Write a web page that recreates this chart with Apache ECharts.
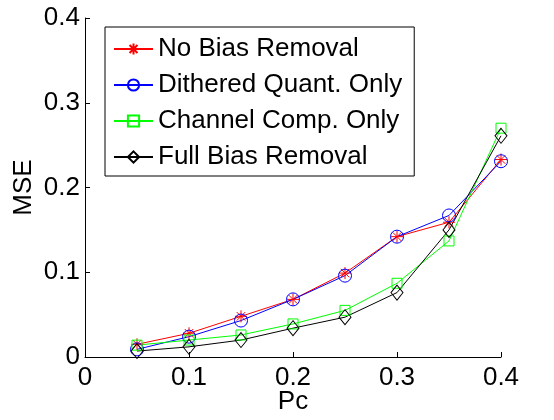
<!DOCTYPE html>
<html>
<head>
<meta charset="utf-8">
<script src="https://cdn.jsdelivr.net/npm/echarts@6/dist/echarts.min.js"></script>
<style>
  html, body { margin: 0; padding: 0; background: #fff; }
  #chart { width: 554px; height: 420px; }
</style>
</head>
<body>
<div id="chart"></div>
<script>
// Crossover probability values on the x axis
const pc = [0.05, 0.10, 0.15, 0.20, 0.25, 0.30, 0.35, 0.40];

// MSE of each estimator
const noBiasRemoval   = [0.015, 0.028, 0.048, 0.068, 0.099, 0.142, 0.159, 0.233];
const ditheredOnly    = [0.009, 0.024, 0.043, 0.068, 0.096, 0.142, 0.167, 0.231];
const channelCompOnly = [0.014, 0.020, 0.026, 0.039, 0.055, 0.087, 0.137, 0.270];
const fullBiasRemoval = [0.007, 0.012, 0.020, 0.034, 0.047, 0.076, 0.150, 0.261];

const seriesNames = ['No Bias Removal', 'Dithered Quant. Only', 'Channel Comp. Only', 'Full Bias Removal'];

const FONT = 'Liberation Sans, Arial, Helvetica, sans-serif';
const FONT_SIZE = 26;
const asterisk = 'path://M0,-10L0,10M-10,0L10,0M-7.07,-7.07L7.07,7.07M-7.07,7.07L7.07,-7.07';

function pairs(ys) {
  return pc.map((x, i) => [x, ys[i]]);
}

function lineSeries(name, ys, color, symbol, size) {
  return {
    name: name,
    type: 'line',
    data: pairs(ys),
    symbol: symbol,
    symbolSize: size,
    showAllSymbol: true,
    lineStyle: { color: color, width: 1 },
    itemStyle: { color: 'rgba(0,0,0,0)', borderColor: color, borderWidth: 1 },
    emphasis: { disabled: true },
    animation: false
  };
}

const tickFormat = v => (v === 0 ? '0' : v.toFixed(1));

const chart = echarts.init(document.getElementById('chart'));
chart.setOption({
  backgroundColor: '#fff',
  animation: false,
  grid: { left: 85, right: 53, top: 18, bottom: 63, containLabel: false, outerBoundsMode: 'none' },
  legend: {
    orient: 'vertical',
    left: 105,
    top: 27,
    backgroundColor: '#fff',
    borderColor: '#000',
    borderWidth: 1,
    padding: [9, 12, 6, 8],
    itemGap: 10,
    itemWidth: 39,
    itemHeight: 14,
    textStyle: { fontFamily: FONT, fontSize: FONT_SIZE, color: '#000', lineHeight: 26 },
    data: seriesNames
  },
  xAxis: {
    type: 'value',
    min: 0, max: 0.4, interval: 0.1,
    name: 'Pc', nameLocation: 'middle', nameGap: 32, nameMoveOverlap: false,
    nameTextStyle: { fontFamily: FONT, fontSize: FONT_SIZE, color: '#000' },
    axisLine: { lineStyle: { color: '#000', width: 1 } },
    axisTick: { show: true, inside: true, length: 5, lineStyle: { color: '#000' } },
    axisLabel: { fontFamily: FONT, fontSize: FONT_SIZE, color: '#000', margin: 8, formatter: tickFormat },
    splitLine: { show: false }
  },
  yAxis: {
    type: 'value',
    min: 0, max: 0.4, interval: 0.1,
    name: 'MSE', nameLocation: 'middle', nameGap: 48, nameMoveOverlap: false,
    nameTextStyle: { fontFamily: FONT, fontSize: FONT_SIZE, color: '#000' },
    axisLine: { show: true, lineStyle: { color: '#000', width: 1 } },
    axisTick: { show: true, inside: true, length: 5, lineStyle: { color: '#000' } },
    axisLabel: { fontFamily: FONT, fontSize: FONT_SIZE, color: '#000', margin: 5, formatter: tickFormat },
    splitLine: { show: false }
  },
  series: [
    lineSeries(seriesNames[0], noBiasRemoval, '#ff0000', asterisk, 12),
    lineSeries(seriesNames[1], ditheredOnly, '#0000ff', 'circle', 13),
    lineSeries(seriesNames[2], channelCompOnly, '#00ff00', 'rect', 10),
    lineSeries(seriesNames[3], fullBiasRemoval, '#000000', 'diamond', [12, 15])
  ]
});
</script>
</body>
</html>
